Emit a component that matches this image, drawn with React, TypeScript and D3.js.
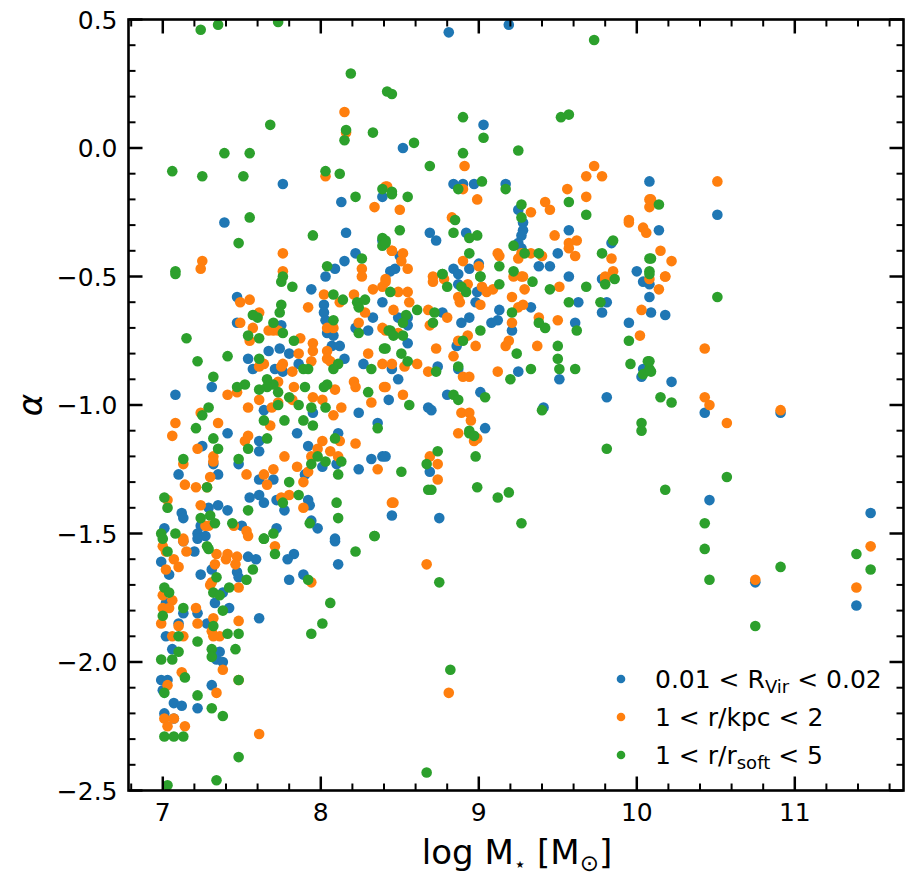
import { useEffect, useRef } from "react";
import * as d3 from "d3";

const seriesLabels = ["0.01 < R_Vir < 0.02", "1 < r/kpc < 2", "1 < r/r_soft < 5"];
const seriesColors = ["#1f77b4", "#ff7f0e", "#2ca02c"];

const xMajorTicks = [7, 8, 9, 10, 11];
const yMajorTicks = [-2.5, -2.0, -1.5, -1.0, -0.5, 0.0, 0.5];

// 0.01 < R_Vir < 0.02
const rvirPoints: [number, number][] = [
  [8.81, 0.45], [9.19, 0.48], [9.03, 0.09], [8.52, 0.0], [7.76, -0.14], [8.13, -0.21], [7.39, -0.29],
  [8.16, -0.33], [8.39, -0.19], [8.84, -0.14], [8.9, -0.14], [8.97, -0.14], [9.17, -0.14], [10.08, -0.13],
  [10.51, -0.26], [10.14, -0.32], [9.25, -0.24], [9.28, -0.29], [9.28, -0.32], [9.27, -0.34], [9.25, -0.37],
  [9.27, -0.39], [8.69, -0.33], [8.73, -0.36], [8.92, -0.33], [9.57, -0.32], [9.84, -0.37], [9.5, -0.41],
  [9.38, -0.46], [9.45, -0.46], [10.0, -0.48], [8.84, -0.47], [8.87, -0.49], [8.94, -0.47], [9.0, -0.45],
  [8.44, -0.48], [8.47, -0.47], [8.5, -0.42], [9.57, -0.5], [8.22, -0.41], [8.15, -0.44], [8.09, -0.47],
  [8.03, -0.5], [8.39, -0.36], [7.94, -0.55], [7.47, -0.58], [8.02, -0.61], [8.02, -0.64], [8.03, -0.67],
  [8.04, -0.72], [8.08, -0.73], [8.07, -0.77], [8.12, -0.77], [8.15, -0.82], [8.39, -0.6], [8.33, -0.66],
  [8.3, -0.71], [8.22, -0.7], [8.27, -0.84], [8.43, -0.98], [7.47, -0.68], [7.75, -0.69], [7.74, -0.78],
  [7.67, -0.79], [7.8, -0.8], [7.54, -0.82], [7.57, -0.86], [7.71, -0.86], [7.76, -0.87], [7.86, -0.84],
  [7.31, -0.93], [7.08, -0.96], [7.64, -1.02], [7.95, -1.03], [8.24, -1.03], [8.36, -1.07], [7.41, -1.11],
  [7.61, -1.14], [7.61, -1.18], [7.85, -1.11], [7.92, -1.16], [8.11, -1.11], [7.25, -1.16], [7.32, -1.23],
  [7.1, -1.27], [7.35, -1.27], [7.48, -1.23], [7.61, -1.29], [7.7, -1.29], [7.9, -1.27], [8.01, -1.24],
  [8.1, -1.23], [8.24, -1.25], [8.32, -1.21], [8.39, -1.2], [8.45, -1.43], [7.55, -1.36], [7.61, -1.35],
  [7.64, -1.38], [7.72, -1.37], [7.92, -1.37], [7.93, -1.39], [7.77, -1.41], [7.35, -1.39], [7.29, -1.4],
  [7.41, -1.41], [7.12, -1.42], [7.13, -1.44], [7.24, -1.47], [7.5, -1.47], [7.72, -1.48], [7.94, -1.45],
  [7.98, -1.48], [7.01, -1.48], [7.22, -1.5], [7.27, -1.51], [8.09, -1.52], [9.78, -0.51], [9.78, -0.64],
  [9.81, -0.6], [10.04, -0.52], [10.08, -0.58], [9.95, -0.68], [10.04, -0.86], [10.03, -0.89], [9.81, -0.97],
  [9.63, -0.6], [9.61, -0.68], [9.33, -0.62], [9.13, -0.63], [9.12, -0.67], [9.08, -0.68], [9.21, -0.71],
  [9.25, -0.87], [9.51, -0.9], [9.41, -1.01], [9.04, -1.09], [9.01, -0.95], [8.8, -0.96], [8.68, -1.01],
  [8.7, -1.02], [8.87, -0.86], [8.86, -0.77], [8.89, -0.68], [8.94, -0.66], [8.99, -0.56], [8.98, -0.6],
  [8.87, -0.53], [8.77, -0.64], [8.55, -0.66], [8.49, -0.66], [8.55, -0.69], [8.55, -0.76], [8.74, -0.85],
  [8.45, -0.86], [8.49, -0.9], [8.41, -1.2], [8.69, -1.26], [8.75, -1.44], [10.09, -0.64], [10.18, -0.65],
  [10.22, -0.91], [10.43, -1.03], [10.91, -1.03], [10.46, -1.37], [11.48, -1.42], [10.08, -0.53],
  [10.75, -1.69], [11.39, -1.78], [7.22, -1.52], [7.2, -1.57], [6.99, -1.61], [7.04, -1.66], [7.24, -1.66],
  [7.31, -1.64], [7.54, -1.59], [7.59, -1.6], [7.47, -1.65], [7.48, -1.67], [7.83, -1.58], [7.79, -1.6],
  [7.8, -1.68], [7.89, -1.66], [8.09, -1.53], [8.11, -1.62], [7.13, -1.53], [7.02, -1.77], [7.13, -1.81],
  [7.22, -1.81], [7.1, -1.85], [7.28, -1.85], [7.42, -1.79], [7.33, -1.77], [7.38, -1.73], [7.61, -1.83],
  [7.02, -1.9], [7.06, -1.95], [7.36, -1.96], [7.34, -1.99], [7.38, -2.0], [6.99, -2.07], [7.03, -2.07],
  [7.0, -2.11], [7.31, -2.09], [7.07, -2.16], [7.12, -2.17], [7.22, -2.18], [7.01, -2.2], [7.07, -2.22],
];

// 1 < r/kpc < 2
const kpcPoints: [number, number][] = [
  [8.15, 0.14], [8.16, 0.06], [8.03, -0.11], [8.41, -0.15], [8.34, -0.23], [7.76, -0.41], [7.25, -0.44],
  [7.24, -0.47], [7.76, -0.48], [8.26, -0.47], [8.26, -0.5], [8.45, -0.4], [8.91, -0.07], [8.42, -0.15],
  [8.9, -0.16], [8.99, -0.2], [8.5, -0.24], [8.83, -0.27], [9.33, -0.25], [9.42, -0.21], [9.45, -0.24],
  [9.56, -0.16], [9.68, -0.11], [9.73, -0.07], [9.78, -0.11], [9.68, -0.19], [9.95, -0.28], [9.95, -0.29],
  [10.08, -0.2], [10.08, -0.23], [10.04, -0.31], [10.06, -0.33], [9.48, -0.34], [9.57, -0.37], [9.57, -0.39],
  [9.62, -0.36], [9.61, -0.42], [9.84, -0.43], [9.85, -0.48], [9.12, -0.41], [9.13, -0.42], [9.25, -0.43],
  [9.33, -0.41], [9.4, -0.42], [9.27, -0.41], [8.9, -0.44], [9.0, -0.46], [8.45, -0.4], [8.52, -0.41],
  [8.51, -0.44], [8.55, -0.47], [9.27, -0.5], [8.71, -0.5], [9.8, -0.5], [10.51, -0.13], [10.09, -0.2],
  [10.15, -0.4], [10.22, -0.44], [10.18, -0.5], [8.02, -0.57], [8.12, -0.6], [8.21, -0.57], [8.28, -0.64],
  [8.24, -0.68], [8.33, -0.55], [8.39, -0.54], [8.41, -0.52], [8.39, -0.7], [8.3, -0.8], [8.39, -0.84],
  [8.4, -0.93], [8.21, -0.91], [8.22, -0.93], [8.32, -0.99], [8.13, -1.01], [8.08, -1.04], [8.09, -0.94],
  [7.92, -0.62], [8.04, -0.7], [8.08, -0.7], [8.04, -0.79], [8.04, -0.82], [8.06, -0.83], [7.95, -0.76],
  [7.95, -0.79], [7.94, -0.83], [7.87, -0.74], [7.86, -0.8], [7.82, -0.87], [7.83, -0.93], [7.82, -0.98],
  [7.95, -0.97], [8.01, -0.98], [7.49, -0.6], [7.55, -0.59], [7.49, -0.68], [7.57, -0.7], [7.61, -0.64],
  [7.55, -0.75], [7.67, -0.71], [7.7, -0.71], [7.73, -0.71], [7.76, -0.84], [7.75, -0.85], [7.61, -0.85],
  [7.64, -0.84], [7.73, -0.91], [7.47, -0.95], [7.41, -0.96], [7.61, -0.98], [7.54, -1.01], [7.69, -1.01],
  [7.73, -0.99], [7.68, -1.08], [7.24, -1.03], [7.08, -1.07], [7.06, -1.12], [7.35, -1.07], [7.52, -1.14],
  [7.54, -1.12], [7.22, -1.17], [7.32, -1.2], [7.13, -1.23], [7.32, -1.22], [7.3, -1.28], [7.14, -1.31],
  [7.21, -1.32], [7.28, -1.32], [7.53, -1.27], [7.64, -1.27], [7.66, -1.31], [7.7, -1.25], [7.77, -1.2],
  [7.85, -1.24], [7.89, -1.3], [7.92, -1.26], [7.94, -1.2], [7.98, -1.17], [8.01, -1.14], [8.06, -1.18],
  [8.11, -1.2], [8.12, -1.14], [8.22, -1.15], [8.36, -1.25], [8.45, -1.38], [7.75, -1.36], [7.8, -1.35],
  [7.89, -1.4], [7.24, -1.39], [7.27, -1.47], [7.29, -1.47], [7.53, -1.49], [7.45, -1.47], [7.13, -1.52],
  [7.03, -1.37], [8.41, -0.51], [8.49, -0.56], [8.55, -0.56], [8.56, -0.6], [8.46, -0.63], [8.71, -0.52],
  [8.78, -0.51], [8.87, -0.58], [8.88, -0.6], [8.93, -0.53], [9.02, -0.54], [9.05, -0.56], [9.09, -0.55],
  [9.01, -0.61], [9.22, -0.5], [9.28, -0.5], [9.21, -0.58], [9.25, -0.62], [9.28, -0.61], [9.29, -0.55],
  [9.51, -0.54], [9.38, -0.66], [9.5, -0.67], [9.21, -0.68], [8.68, -0.63], [8.69, -0.69], [8.8, -0.66],
  [8.41, -0.71], [8.49, -0.72], [8.93, -0.73], [8.87, -0.75], [8.98, -0.77], [8.73, -0.78], [8.84, -0.81],
  [9.17, -0.77], [9.19, -0.75], [9.37, -0.77], [8.41, -0.93], [8.52, -0.96], [8.45, -0.84], [8.53, -0.85],
  [8.61, -0.84], [8.68, -0.87], [8.9, -0.89], [8.94, -0.89], [9.12, -0.87], [8.89, -1.03], [8.94, -1.03],
  [8.95, -1.06], [8.87, -1.11], [8.99, -1.13], [8.97, -1.14], [8.69, -1.2], [8.74, -1.23], [8.74, -1.29],
  [8.46, -1.38], [10.03, -0.63], [10.02, -0.73], [9.8, -0.51], [10.18, -0.5], [10.14, -0.55], [10.43, -0.78],
  [10.43, -0.97], [10.46, -1.0], [10.57, -1.07], [10.91, -1.02], [10.08, -0.51], [11.39, -1.71],
  [11.48, -1.55], [10.75, -1.68], [7.13, -1.53], [7.15, -1.57], [7.0, -1.55], [7.02, -1.57], [7.07, -1.6],
  [7.1, -1.63], [7.02, -1.64], [7.34, -1.58], [7.41, -1.58], [7.4, -1.6], [7.47, -1.59], [7.46, -1.62],
  [7.33, -1.62], [7.3, -1.7], [7.31, -1.69], [7.48, -1.71], [7.94, -1.69], [7.71, -1.55], [7.54, -1.51],
  [7.0, -1.74], [7.06, -1.76], [7.0, -1.79], [7.04, -1.79], [6.99, -1.85], [7.1, -1.86], [7.13, -1.9],
  [7.06, -1.9], [7.21, -1.79], [7.22, -1.85], [7.32, -1.83], [7.31, -1.88], [7.36, -1.9], [7.32, -1.9],
  [7.48, -1.84], [7.38, -2.03], [7.12, -2.04], [7.03, -2.09], [7.34, -2.12], [7.48, -2.07], [7.01, -2.22],
  [7.03, -2.25], [7.07, -2.22], [7.14, -2.25], [7.61, -2.28], [8.67, -1.62], [8.81, -2.12],
];

// 1 < r/r_soft < 5
const softPoints: [number, number][] = [
  [7.24, 0.46], [7.35, 0.48], [7.73, 0.49], [8.19, 0.29], [8.42, 0.22], [8.45, 0.21], [7.68, 0.09],
  [8.16, 0.07], [8.15, 0.03], [8.33, 0.06], [7.39, -0.02], [7.55, -0.02], [7.06, -0.09], [7.25, -0.11],
  [7.51, -0.11], [8.03, -0.09], [8.12, -0.1], [8.22, -0.19], [8.39, -0.16], [8.45, -0.17], [7.55, -0.27],
  [7.95, -0.34], [7.48, -0.37], [8.39, -0.35], [8.39, -0.38], [8.26, -0.43], [8.04, -0.46], [7.08, -0.48],
  [7.76, -0.5], [9.73, 0.42], [8.9, 0.12], [9.03, 0.04], [9.52, 0.12], [9.57, 0.13], [8.59, 0.02],
  [8.9, -0.02], [9.25, -0.01], [8.69, -0.07], [9.02, -0.13], [8.87, -0.16], [9.17, -0.16], [8.45, -0.18],
  [8.55, -0.19], [9.27, -0.22], [9.27, -0.27], [9.57, -0.21], [9.68, -0.26], [8.85, -0.28], [8.5, -0.32],
  [8.84, -0.33], [8.94, -0.35], [8.99, -0.34], [9.22, -0.38], [9.29, -0.41], [9.38, -0.41], [8.94, -0.41],
  [8.77, -0.49], [9.01, -0.5], [9.13, -0.46], [9.22, -0.48], [9.78, -0.41], [9.85, -0.36], [10.08, -0.48],
  [10.08, -0.43], [8.41, -0.36], [8.41, -0.37], [10.14, -0.22], [10.09, -0.43], [7.08, -0.49], [7.75, -0.52],
  [7.82, -0.54], [8.08, -0.57], [8.14, -0.59], [8.23, -0.6], [8.28, -0.59], [8.24, -0.62], [8.24, -0.72],
  [8.43, -0.71], [8.4, -0.78], [8.32, -0.86], [8.3, -0.95], [8.36, -1.09], [8.08, -0.67], [8.11, -0.84],
  [8.08, -0.86], [8.04, -0.92], [8.02, -0.93], [8.03, -1.01], [8.09, -1.13], [8.13, -1.22], [8.11, -1.27],
  [8.1, -1.38], [8.11, -1.44], [8.34, -1.51], [7.75, -0.61], [7.74, -0.64], [7.7, -0.68], [7.76, -0.72],
  [7.83, -0.75], [7.89, -0.86], [7.92, -0.86], [7.9, -0.93], [7.94, -1.01], [7.95, -1.08], [7.89, -1.06],
  [7.86, -1.0], [7.77, -1.06], [7.8, -0.97], [7.73, -1.0], [7.73, -0.95], [7.7, -0.92], [7.66, -0.9],
  [7.66, -0.93], [7.61, -0.94], [7.64, -1.06], [7.66, -1.13], [7.61, -0.82], [7.61, -0.74], [7.6, -0.66],
  [7.57, -0.65], [7.54, -0.73], [7.52, -0.92], [7.47, -0.93], [7.41, -0.81], [7.32, -0.89], [7.29, -1.01],
  [7.25, -1.04], [7.21, -1.09], [7.15, -0.74], [7.22, -0.83], [7.32, -1.13], [7.35, -1.17], [7.54, -1.17],
  [7.13, -1.21], [7.48, -1.21], [7.28, -1.32], [7.8, -1.3], [7.86, -1.35], [7.76, -1.38], [7.94, -1.23],
  [7.98, -1.2], [8.03, -1.22], [7.01, -1.36], [7.03, -1.4], [7.24, -1.44], [7.3, -1.43], [7.33, -1.46],
  [7.54, -1.41], [7.44, -1.46], [7.08, -1.5], [6.99, -1.5], [7.7, -1.5], [7.64, -1.52], [7.93, -1.46],
  [8.44, -0.56], [8.61, -0.63], [8.54, -0.65], [8.72, -0.64], [8.71, -0.68], [8.52, -0.68], [8.44, -0.71],
  [8.46, -0.73], [8.52, -0.73], [8.41, -0.78], [8.51, -0.8], [8.55, -0.83], [8.56, -1.0], [8.73, -0.87],
  [8.87, -0.85], [8.9, -0.75], [8.8, -0.54], [8.77, -0.49], [8.89, -0.54], [8.92, -0.56], [9.01, -0.5],
  [9.13, -0.53], [9.34, -0.52], [9.45, -0.55], [9.57, -0.6], [9.68, -0.54], [9.86, -0.51], [9.8, -0.53],
  [9.77, -0.6], [9.21, -0.64], [9.38, -0.68], [9.42, -0.7], [9.62, -0.71], [9.5, -0.77], [9.5, -0.82],
  [9.51, -0.86], [9.61, -0.86], [9.33, -0.86], [9.24, -0.8], [9.2, -0.9], [9.01, -0.71], [8.84, -0.96],
  [8.87, -0.98], [9.04, -0.97], [9.4, -1.02], [8.94, -1.1], [8.94, -1.11], [8.97, -1.12], [8.98, -1.2],
  [8.74, -1.18], [8.67, -1.23], [8.68, -1.33], [8.7, -1.33], [8.51, -1.26], [8.99, -1.32], [9.12, -1.36],
  [9.19, -1.34], [9.27, -1.46], [9.95, -0.75], [9.96, -0.84], [10.07, -0.83], [10.08, -0.86], [10.04, -0.88],
  [10.03, -1.07], [10.03, -1.1], [9.81, -1.17], [10.08, -0.49], [10.51, -0.58], [10.08, -0.83],
  [10.09, -0.87], [10.15, -0.97], [10.22, -0.99], [10.57, -1.28], [10.18, -1.33], [10.43, -1.46],
  [10.43, -1.56], [10.46, -1.68], [10.75, -1.86], [10.91, -1.63], [11.39, -1.58], [11.48, -1.64],
  [7.0, -1.52], [7.03, -1.57], [7.28, -1.55], [7.29, -1.56], [7.34, -1.67], [7.57, -1.64], [7.53, -1.68],
  [7.64, -1.52], [7.71, -1.58], [7.92, -1.68], [8.22, -1.57], [8.34, -1.51], [8.06, -1.77], [8.01, -1.85],
  [7.94, -1.89], [7.01, -1.71], [7.04, -1.73], [7.13, -1.79], [7.0, -1.82], [7.1, -1.9], [7.1, -1.96],
  [7.06, -1.99], [6.99, -1.99], [7.32, -1.73], [7.36, -1.74], [7.38, -1.8], [7.32, -1.86], [7.41, -1.89],
  [7.48, -1.89], [7.42, -1.71], [7.22, -1.92], [7.46, -1.95], [7.31, -1.95], [7.31, -1.98], [7.14, -2.06],
  [7.01, -2.12], [7.22, -2.13], [7.48, -2.07], [7.31, -2.18], [7.38, -2.21], [7.01, -2.29], [7.07, -2.29],
  [7.13, -2.29], [7.48, -2.37], [7.34, -2.46], [7.03, -2.48], [8.75, -1.69], [8.82, -2.03], [8.67, -2.43],
];

const allSeries = [rvirPoints, kpcPoints, softPoints];

const W = 913;
const H = 883;
const plot = { left: 128.5, right: 903.5, top: 19.5, bottom: 790.5 };
const FONT = "DejaVu Sans, sans-serif";

export default function App() {
  const ref = useRef<SVGSVGElement | null>(null);

  useEffect(() => {
    if (!ref.current) return;
    const svg = d3.select(ref.current);
    svg.selectAll("*").remove();

    const x = d3.scaleLinear([6.783, 11.688], [plot.left, plot.right]);
    const y = d3.scaleLinear([-2.5, 0.5], [plot.bottom, plot.top]);
    const [x0, x1] = x.range();
    const [y0, y1] = y.range();

    svg.append("rect").attr("width", W).attr("height", H).attr("fill", "#fff");

    // points
    const clipId = "plot-clip";
    svg
      .append("clipPath")
      .attr("id", clipId)
      .append("rect")
      .attr("x", x0)
      .attr("y", y1)
      .attr("width", x1 - x0)
      .attr("height", y0 - y1);

    const pts = svg.append("g").attr("clip-path", `url(#${clipId})`);
    allSeries.forEach((series, i) => {
      pts
        .append("g")
        .selectAll("circle")
        .data(series)
        .join("circle")
        .attr("cx", (d) => x(d[0]))
        .attr("cy", (d) => y(d[1]))
        .attr("r", 5.3)
        .attr("fill", seriesColors[i]);
    });

    // ticks (inward on all sides)
    const xMinor = d3.range(6.8, 11.69, 0.2).filter((v) => !xMajorTicks.some((m) => Math.abs(m - v) < 1e-6));
    const yMinor = d3.range(-2.5, 0.51, 0.1).filter((v) => !yMajorTicks.some((m) => Math.abs(m - v) < 1e-6));
    const tk = svg.append("g").attr("stroke", "#000");
    const drawX = (vals: number[], len: number, w: number) => {
      vals.forEach((v) => {
        const px = x(v);
        tk.append("line").attr("x1", px).attr("x2", px).attr("y1", y0).attr("y2", y0 - len).attr("stroke-width", w);
        tk.append("line").attr("x1", px).attr("x2", px).attr("y1", y1).attr("y2", y1 + len).attr("stroke-width", w);
      });
    };
    const drawY = (vals: number[], len: number, w: number) => {
      vals.forEach((v) => {
        const py = y(v);
        tk.append("line").attr("x1", x0).attr("x2", x0 + len).attr("y1", py).attr("y2", py).attr("stroke-width", w);
        tk.append("line").attr("x1", x1).attr("x2", x1 - len).attr("y1", py).attr("y2", py).attr("stroke-width", w);
      });
    };
    drawX(xMajorTicks, 14, 2.5);
    drawX(xMinor, 7, 2);
    drawY(yMajorTicks, 14, 2.5);
    drawY(yMinor, 7, 2);

    // frame
    svg
      .append("rect")
      .attr("x", x0)
      .attr("y", y1)
      .attr("width", x1 - x0)
      .attr("height", y0 - y1)
      .attr("fill", "none")
      .attr("stroke", "#000")
      .attr("stroke-width", 2.6);

    // tick labels
    const fmtMinus = (s: string) => s.replace("-", "\u2212");
    svg
      .append("g")
      .selectAll("text")
      .data(xMajorTicks)
      .join("text")
      .attr("x", (d) => x(d))
      .attr("y", 821)
      .attr("text-anchor", "middle")
      .attr("font-family", FONT)
      .attr("font-size", 25)
      .text((d) => String(d));
    svg
      .append("g")
      .selectAll("text")
      .data(yMajorTicks)
      .join("text")
      .attr("x", x0 - 11)
      .attr("y", (d) => y(d))
      .attr("dy", "0.36em")
      .attr("text-anchor", "end")
      .attr("font-family", FONT)
      .attr("font-size", 25)
      .text((d) => fmtMinus(d3.format(".1f")(d)));

    // axis labels
    const xl = svg
      .append("text")
      .attr("x", 517)
      .attr("y", 864)
      .attr("text-anchor", "middle")
      .attr("font-family", FONT)
      .attr("font-size", 34);
    xl.append("tspan").text("log M");
    xl.append("tspan").attr("font-size", 20).attr("dy", 7).text("\u22c6");
    xl.append("tspan").attr("dy", -7).text(" [M");
    xl.append("tspan").attr("font-size", 23).attr("dy", 7).text("\u2299");
    xl.append("tspan").attr("dy", -7).text("]");

    svg
      .append("text")
      .attr("transform", `translate(42,${(y0 + y1) / 2}) rotate(-90)`)
      .attr("text-anchor", "middle")
      .attr("font-family", FONT)
      .attr("font-size", 34)
      .attr("font-style", "italic")
      .text("\u03b1");

    // legend
    const lg = svg.append("g").attr("transform", "translate(621,679)");
    seriesLabels.forEach((lab, i) => {
      const row = lg.append("g").attr("transform", `translate(0,${i * 38})`);
      row.append("circle").attr("r", 4.3).attr("fill", seriesColors[i]);
      const t = row
        .append("text")
        .attr("x", 34)
        .attr("y", 9)
        .attr("font-family", FONT)
        .attr("font-size", 25);
      const m = lab.match(/^(.*?)_(\w+)(.*)$/);
      if (m) {
        t.append("tspan").text(m[1]);
        t.append("tspan").attr("font-size", 18).attr("dy", 5).text(m[2]);
        t.append("tspan").attr("dy", -5).text(m[3]);
      } else {
        t.text(lab);
      }
    });
  }, []);

  return (
    <svg
      ref={ref}
      width={W}
      height={H}
      style={{ position: "absolute", left: 0, top: 0, display: "block" }}
    />
  );
}
